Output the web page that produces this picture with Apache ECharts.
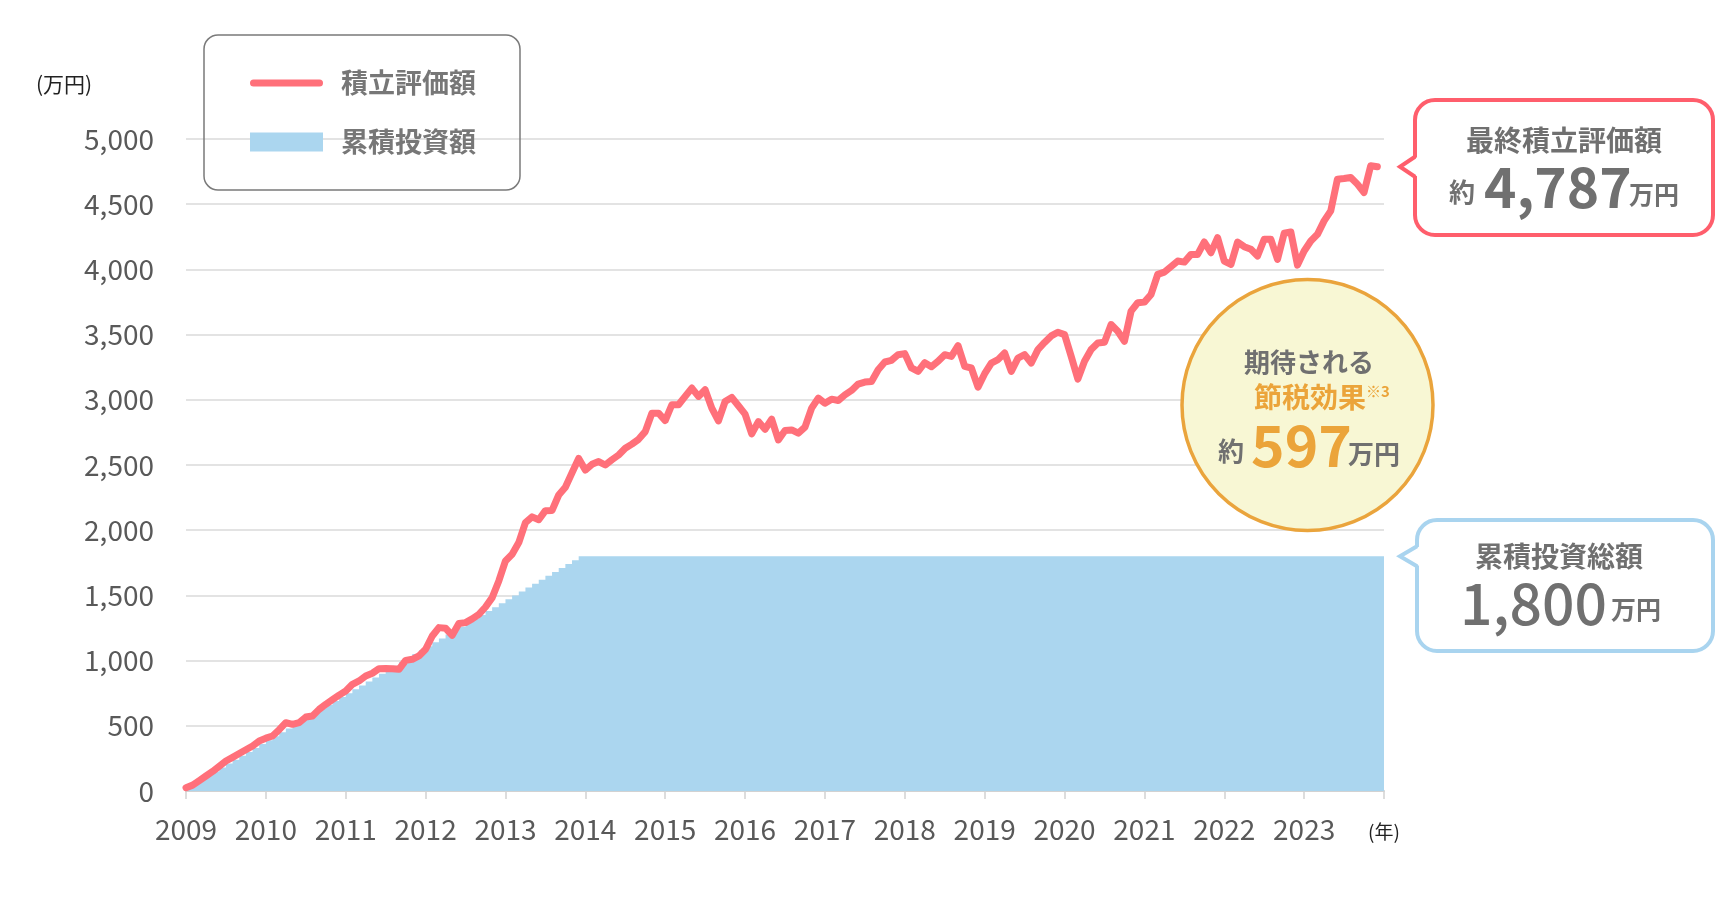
<!DOCTYPE html>
<html><head><meta charset="utf-8">
<script src="https://cdn.jsdelivr.net/npm/echarts@6/dist/echarts.min.js"></script>
<style>html,body{margin:0;padding:0;background:#fff}#c{width:1728px;height:900px}</style>
</head><body><div id="c"></div>
<script>
// ---- data ----
const startYear = 2009;
const endYear = 2024;
const seriesNames = ['積立評価額', '累積投資額'];
// monthly evaluation value (万円), Jan 2009 .. Dec 2023
const evalValues = [
  25,45,80,115,150,190,230,258,287,316,345,384,
  405,422,470,524,511,524,567,575,626,665,700,735,
  767,818,844,882,903,938,940,938,933,1002,1010,1036,
  1087,1189,1253,1248,1194,1284,1291,1320,1355,1411,1483,1611,
  1764,1815,1905,2058,2102,2080,2150,2152,2270,2330,2440,2550,
  2461,2505,2526,2500,2540,2577,2628,2660,2697,2756,2897,2897,
  2841,2962,2962,3026,3090,3026,3077,2936,2838,2987,3018,2954,
  2890,2738,2833,2774,2851,2692,2764,2769,2744,2790,2936,3013,
  2974,3005,2995,3038,3072,3121,3136,3141,3231,3290,3303,3346,
  3354,3244,3218,3285,3254,3295,3346,3333,3415,3256,3244,3097,
  3200,3282,3308,3359,3218,3320,3346,3282,3385,3440,3490,3518,
  3500,3333,3159,3295,3385,3436,3441,3577,3526,3449,3680,3744,
  3749,3808,3962,3979,4021,4064,4056,4115,4115,4210,4128,4244,
  4064,4038,4210,4174,4154,4103,4231,4231,4077,4277,4287,4033,
  4141,4218,4269,4372,4449,4692,4697,4705,4654,4590,4795,4787
];
// cumulative invested amount (万円), Jan 2009 .. Dec 2013
const investRamp = [
  30,60,90,120,150,180,210,240,270,300,330,360,
  390,420,450,480,510,540,570,600,630,660,690,720,
  750,780,810,840,870,900,930,960,990,1020,1050,1080,
  1110,1140,1170,1200,1230,1260,1290,1320,1350,1380,1410,1440,
  1470,1500,1530,1560,1590,1620,1650,1680,1710,1740,1770,1800
];
const investTotal = 1800;
const finalValue = 4787;
const taxSaving = 597;
const yMax = 5000, yStep = 500;

// ---- build ----
const months = [];
for (let y = startYear; y <= endYear; y++) {
  for (let m = 1; m <= 12; m++) {
    if (y === endYear && m > 1) break;
    months.push(y + '-' + String(m).padStart(2, '0'));
  }
}
const investData = months.map((_, i) => i < investRamp.length ? investRamp[i] : investTotal);

const FONT = "'Noto Sans CJK JP', 'Noto Sans', sans-serif";
const RED = '#ff707a', BLUE = '#abd6ef', GRAY = '#707070', ORANGE = '#eba43a';

const chart = echarts.init(document.getElementById('c'));
chart.setOption({
  animation: false,
  textStyle: { fontFamily: FONT },
  grid: { left: 186, right: 344, top: 139, bottom: 109, containLabel: false },
  legend: {
    orient: 'vertical', left: 204, top: 35,
    padding: [33, 44, 33, 46], itemGap: 29,
    itemWidth: 73, itemHeight: 19,
    borderColor: '#7a7a7a', borderWidth: 1.5, borderRadius: 14,
    selectedMode: false,
    textStyle: { fontSize: 27, fontWeight: 'bold', color: '#777', lineHeight: 30, padding: [0, 0, 0, 13] },
    data: [
      { name: seriesNames[0], icon: 'path://M3.5 0L69.5 0A3.5 3.5 0 0 1 69.5 7L3.5 7A3.5 3.5 0 0 1 3.5 0Z', itemStyle: { color: RED, borderWidth: 0 } },
      { name: seriesNames[1], icon: 'rect', itemStyle: { color: BLUE, borderWidth: 0 } }
    ]
  },
  xAxis: {
    type: 'category', data: months, boundaryGap: false,
    axisLine: { lineStyle: { color: '#d2d2d2', width: 2 } },
    axisTick: { interval: 11, length: 8, lineStyle: { color: '#d2d2d2', width: 1.5 } },
    axisLabel: {
      interval: 11, margin: 24, fontSize: 28, color: '#595959', fontFamily: FONT,
      formatter: v => { const y = +v.split('-')[0]; return y === endYear ? '{u|(年)}' : String(y); },
      rich: { u: { fontSize: 19, color: '#222', fontFamily: FONT, padding: [7, 0, 0, 0] } }
    },
    splitLine: { show: false }
  },
  yAxis: {
    type: 'value', min: 0, max: yMax, interval: yStep,
    axisLine: { show: false }, axisTick: { show: false },
    axisLabel: { margin: 32, fontSize: 28, color: '#595959', fontFamily: FONT, formatter: v => v.toLocaleString('en-US') },
    splitLine: { lineStyle: { color: '#dadada', width: 1.5 } }
  },
  series: [
    {
      name: seriesNames[1], type: 'line', data: investData, step: 'end',
      symbol: 'none', silent: true, z: 1,
      itemStyle: { color: BLUE }, lineStyle: { width: 0 },
      areaStyle: { color: BLUE, opacity: 1 }
    },
    {
      name: seriesNames[0], type: 'line', data: evalValues,
      symbol: 'none', silent: true, z: 3,
      itemStyle: { color: RED },
      lineStyle: { color: RED, width: 7, cap: 'round', join: 'round' }
    }
  ]
});

// ---- annotations ----
const tip1 = chart.convertToPixel({ yAxisIndex: 0 }, finalValue);
const tip2 = chart.convertToPixel({ yAxisIndex: 0 }, investTotal);

function txt(x, y, s, size, color, weight, align) {
  return {
    type: 'text', z: 110,
    style: {
      x: x, y: y, text: s, fill: color,
      font: (weight || 'bold') + ' ' + size + 'px ' + FONT,
      align: align || 'left', verticalAlign: 'middle',
      textAlign: align || 'left', textVerticalAlign: 'middle'
    }
  };
}
function bubble(x, y, w, h, tipX, tipY, color) {
  return [
    { type: 'rect', z: 100, shape: { x: x, y: y, width: w, height: h, r: 20 }, style: { fill: '#fff', stroke: color, lineWidth: 4 } },
    { type: 'polygon', z: 101, shape: { points: [[x + 3, tipY - 10], [tipX, tipY], [x + 3, tipY + 10]] }, style: { fill: '#fff', stroke: null } },
    { type: 'polyline', z: 102, shape: { points: [[x, tipY - 10], [tipX, tipY], [x, tipY + 10]] }, style: { stroke: color, lineWidth: 4, fill: null, lineJoin: 'miter' } }
  ];
}

const g = [];
g.push(txt(36, 84, '(万円)', 21, '#222', 'normal'));
g.push(...bubble(1415, 100, 298, 135, 1400, tip1, '#ff5e6c'));
g.push(txt(1564, 140, '最終積立評価額', 28, GRAY, 'bold', 'center'));
g.push(txt(1449, 192, '約', 26, GRAY));
g.push(txt(1484, 187, finalValue.toLocaleString('en-US'), 55, GRAY));
g.push(txt(1629, 194, '万円', 25, GRAY));

g.push(...bubble(1417, 520, 296, 131, 1400, tip2, '#a9d4ef'));
g.push(txt(1559, 556, '累積投資総額', 28, GRAY, 'bold', 'center'));
g.push(txt(1460, 603, investTotal.toLocaleString('en-US'), 57, GRAY, '500'));
g.push(txt(1611, 609, '万円', 25, GRAY));

g.push({ type: 'circle', z: 100, shape: { cx: 1307.5, cy: 405, r: 125.5 }, style: { fill: '#f8f7d4', stroke: '#eaa43c', lineWidth: 3.5 } });
g.push(txt(1309, 362, '期待される', 26, GRAY, 'bold', 'center'));
g.push(txt(1310, 397, '節税効果', 28, ORANGE, 'bold', 'center'));
g.push({ type: 'text', z: 110, style: { x: 1366, y: 384, text: '※3', fill: ORANGE, font: 'bold 15px ' + FONT, align: 'left', verticalAlign: 'top', textAlign: 'left', textVerticalAlign: 'top' } });
g.push(txt(1218, 451, '約', 26, GRAY));
g.push(txt(1251, 445, String(taxSaving), 57, ORANGE));
g.push(txt(1348, 454, '万円', 26, GRAY));

chart.setOption({ graphic: { elements: g } });
</script>
</body></html>
